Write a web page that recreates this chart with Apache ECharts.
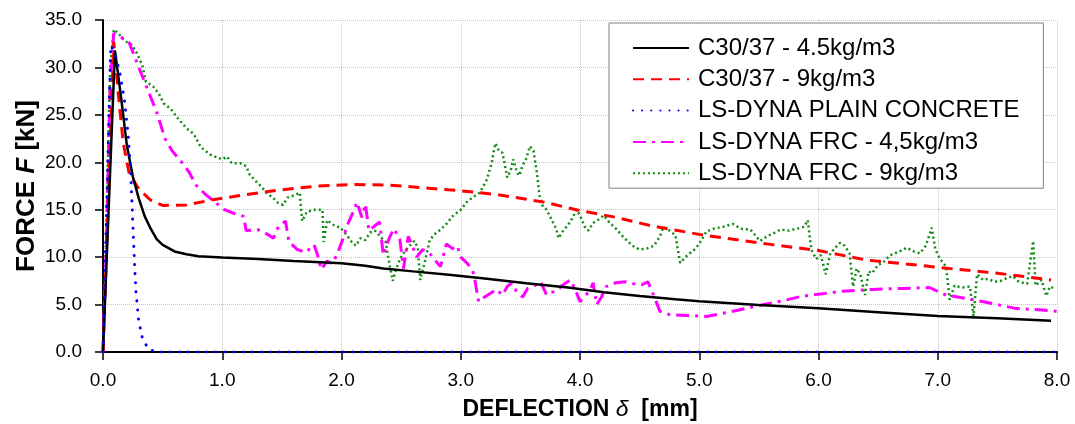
<!DOCTYPE html>
<html>
<head>
<meta charset="utf-8">
<script src="https://cdn.jsdelivr.net/npm/echarts@6/dist/echarts.min.js"></script>
<style>html,body{margin:0;padding:0;background:#fff;}#c{width:1075px;height:424px;}</style>
</head>
<body>
<div id="c"></div>
<script>
var seriesNames = ['C30/37 - 4.5kg/m3', 'C30/37 - 9kg/m3', 'LS-DYNA PLAIN CONCRETE', 'LS-DYNA FRC - 4,5kg/m3', 'LS-DYNA FRC - 9kg/m3'];
var xTicks = [0, 1, 2, 3, 4, 5, 6, 7, 8];
var yTicks = [0, 5, 10, 15, 20, 25, 30, 35];

var c30_45 = [[0,0],[0.1,31.8],[0.15,27],[0.2,21.8],[0.25,18.5],[0.3,16.2],[0.35,14.3],[0.4,13],[0.45,11.9],[0.5,11.3],[0.6,10.6],[0.7,10.3],[0.8,10.1],[1.0,9.95],[1.3,9.8],[1.6,9.6],[2.0,9.35],[2.2,9.1],[2.35,8.8],[2.6,8.5],[2.9,8.15],[3.2,7.75],[3.55,7.25],[3.9,6.8],[4.2,6.3],[4.5,5.9],[4.8,5.55],[5.0,5.35],[5.5,4.95],[6.0,4.6],[6.5,4.2],[7.0,3.8],[7.5,3.55],[7.95,3.3]];

var c30_9 = [[0,0],[0.05,18],[0.09,32.7],[0.13,27],[0.17,22],[0.22,18.8],[0.3,17.2],[0.4,16],[0.5,15.45],[0.7,15.5],[0.9,16.0],[1.2,16.6],[1.5,17.1],[1.8,17.5],[2.1,17.65],[2.4,17.6],[2.7,17.3],[3.0,17.0],[3.3,16.6],[3.7,15.8],[4.0,14.9],[4.3,14.2],[4.6,13.3],[5.0,12.4],[5.5,11.5],[6.0,10.7],[6.4,9.7],[6.8,9.2],[7.1,8.8],[7.5,8.3],[7.95,7.6]];

var plain = [[0,0],[0.065,32.3],[0.1,31.5],[0.14,29.5],[0.18,26.5],[0.21,23],[0.23,19.5],[0.245,15],[0.26,10.5],[0.275,6.5],[0.3,3.2],[0.33,1.5],[0.38,0.3],[0.45,0],[8.0,0]];

var frc_45 = [[0,0],[0.03,12],[0.06,28],[0.09,33.6],[0.15,33.2],[0.22,32.6],[0.3,30],[0.38,27.5],[0.45,25.3],[0.52,22.5],[0.58,21.2],[0.66,20.0],[0.72,19.0],[0.78,17.6],[0.86,16.6],[0.94,15.8],[1.02,15.0],[1.1,14.6],[1.18,14.3],[1.2,12.8],[1.3,12.9],[1.38,12.4],[1.43,12.0],[1.47,13.2],[1.53,13.8],[1.56,11.6],[1.63,10.8],[1.7,10.5],[1.77,11.3],[1.8,10.2],[1.83,8.7],[1.88,9.6],[1.92,9.3],[1.96,10.2],[2.0,11.5],[2.05,13.4],[2.1,14.8],[2.13,15.8],[2.17,14.2],[2.2,15.6],[2.23,12.8],[2.27,13.2],[2.32,13.7],[2.35,10.2],[2.4,12.0],[2.44,13.0],[2.49,11.8],[2.52,8.8],[2.56,12.2],[2.6,11.0],[2.63,10.0],[2.68,10.8],[2.74,10.4],[2.79,9.6],[2.83,9.0],[2.88,11.4],[2.93,10.9],[2.97,11.2],[3.0,10.0],[3.05,9.4],[3.09,8.8],[3.11,8.2],[3.15,5.3],[3.2,5.8],[3.25,6.2],[3.3,6.6],[3.35,6.0],[3.39,6.9],[3.43,7.3],[3.47,6.3],[3.52,5.8],[3.56,6.7],[3.62,7.0],[3.67,7.4],[3.72,6.0],[3.76,6.3],[3.8,6.4],[3.85,7.0],[3.92,7.6],[3.96,6.6],[4.0,5.3],[4.04,5.9],[4.08,6.4],[4.11,7.3],[4.14,5.0],[4.18,5.8],[4.22,6.9],[4.3,7.3],[4.38,7.4],[4.45,7.2],[4.52,7.1],[4.57,7.4],[4.62,5.9],[4.67,4.3],[4.75,3.95],[4.9,3.85],[5.06,3.75],[5.25,4.2],[5.5,4.9],[5.7,5.4],[5.85,5.85],[6.0,6.1],[6.2,6.4],[6.45,6.6],[6.7,6.7],[6.93,6.8],[7.07,6.0],[7.3,5.5],[7.5,5.0],[7.65,4.6],[7.85,4.45],[8.0,4.3]];

var frc_9 = [[0,0],[0.03,14],[0.06,30],[0.09,34.0],[0.13,33.6],[0.18,32.8],[0.24,32.4],[0.28,31.6],[0.33,30.2],[0.36,28.5],[0.42,28.0],[0.47,27.2],[0.51,26.2],[0.57,25.6],[0.63,24.6],[0.7,23.6],[0.76,23.0],[0.82,21.6],[0.9,20.8],[0.96,20.5],[1.0,20.3],[1.04,20.6],[1.08,19.9],[1.15,19.9],[1.2,19.6],[1.23,18.7],[1.29,17.9],[1.33,17.4],[1.37,16.8],[1.43,16.2],[1.47,15.7],[1.51,15.5],[1.55,16.3],[1.6,16.5],[1.65,16.8],[1.67,13.8],[1.71,14.8],[1.78,15.0],[1.84,15.0],[1.85,11.6],[1.88,13.9],[1.93,13.4],[1.99,13.1],[2.04,12.4],[2.08,11.7],[2.12,11.2],[2.16,12.0],[2.2,11.8],[2.24,12.6],[2.28,12.8],[2.33,12.1],[2.37,11.6],[2.4,9.4],[2.43,7.5],[2.46,8.8],[2.49,9.8],[2.53,10.6],[2.57,11.2],[2.61,11.7],[2.64,11.0],[2.66,7.6],[2.7,9.6],[2.74,11.8],[2.78,12.4],[2.83,12.9],[2.88,13.5],[2.93,14.3],[3.0,15.0],[3.05,15.8],[3.1,16.3],[3.16,16.8],[3.22,18.2],[3.26,20.0],[3.29,22.0],[3.32,21.2],[3.35,21.0],[3.39,18.4],[3.42,19.2],[3.44,20.3],[3.47,19.0],[3.49,18.6],[3.52,19.7],[3.55,20.4],[3.58,21.7],[3.61,21.2],[3.64,18.8],[3.66,16.5],[3.69,15.3],[3.72,15.0],[3.76,14.0],[3.8,13.0],[3.82,12.0],[3.86,12.8],[3.9,13.4],[3.94,14.2],[3.97,15.0],[4.0,14.4],[4.04,13.2],[4.07,12.8],[4.11,13.6],[4.16,14.0],[4.2,14.4],[4.25,13.6],[4.31,12.9],[4.35,12.3],[4.39,11.8],[4.44,11.2],[4.5,10.8],[4.56,10.9],[4.62,11.2],[4.67,12.2],[4.7,13.2],[4.75,12.8],[4.8,12.3],[4.84,9.4],[4.9,10.2],[4.96,10.8],[5.0,11.4],[5.06,12.7],[5.12,13.0],[5.2,13.2],[5.28,13.5],[5.35,13.0],[5.43,12.9],[5.51,11.7],[5.57,12.2],[5.62,12.5],[5.68,12.9],[5.75,12.8],[5.82,13.0],[5.88,13.2],[5.91,13.9],[5.94,10.8],[5.98,9.8],[6.02,10.2],[6.06,8.2],[6.1,10.4],[6.14,11.0],[6.18,11.5],[6.22,11.2],[6.26,10.4],[6.29,6.9],[6.32,8.8],[6.35,8.2],[6.39,6.0],[6.42,8.5],[6.45,8.3],[6.5,9.2],[6.54,9.4],[6.6,10.2],[6.68,10.6],[6.74,11.0],[6.8,10.6],[6.85,10.4],[6.9,11.2],[6.95,13.1],[6.98,10.8],[7.02,9.8],[7.07,9.0],[7.1,5.5],[7.14,7.0],[7.2,6.8],[7.27,6.9],[7.3,3.8],[7.33,8.2],[7.38,7.6],[7.42,7.7],[7.48,7.4],[7.53,7.5],[7.58,7.8],[7.63,8.0],[7.68,7.4],[7.75,7.2],[7.8,11.7],[7.82,7.0],[7.87,7.6],[7.91,5.9],[7.94,6.9],[7.98,6.7]];

var FONT = "'Liberation Sans', Arial, sans-serif";
var chart = echarts.init(document.getElementById('c'), null, {renderer: 'canvas'});

function mkSeries(name, data, color, width, dash, z, cap) {
  return {
    name: name, type: 'line', data: data, symbol: 'none', showSymbol: false,
    animation: false, z: z,
    lineStyle: {color: color, width: width, type: dash, cap: cap || 'butt'},
    itemStyle: {color: color}
  };
}

var option = {
  animation: false,
  backgroundColor: '#ffffff',
  grid: {left: 103, right: 18, top: 20, bottom: 72, containLabel: false, outerBoundsMode: 'none'},
  legend: {
    data: seriesNames,
    orient: 'vertical',
    left: 609, top: 23,
    padding: [13, 24, 3, 23],
    itemWidth: 56, itemHeight: 14, itemGap: 7.3,
    backgroundColor: '#ffffff',
    borderColor: '#808080', borderWidth: 1,
    z: 10,
    itemStyle: {color: 'rgba(0,0,0,0)', borderColor: 'rgba(0,0,0,0)', borderWidth: 0, opacity: 0},
    textStyle: {fontFamily: FONT, fontSize: 24, color: '#000', padding: [0, 0, 0, 4]}
  },
  xAxis: {
    type: 'value', min: 0, max: 8, interval: 1,
    name: '{b|DEFLECTION }{i|δ}{b|  [mm]}',
    nameLocation: 'middle', nameGap: 46, nameMoveOverlap: false,
    nameTextStyle: {
      rich: {
        b: {fontFamily: FONT, fontSize: 23, fontWeight: 'bold', color: '#000'},
        i: {fontFamily: FONT, fontSize: 23, fontStyle: 'italic', color: '#000'}
      }
    },
    axisLine: {show: true, lineStyle: {color: '#000', width: 2}},
    axisTick: {show: true, length: 8, lineStyle: {color: '#000', width: 1.5}},
    axisLabel: {fontFamily: FONT, fontSize: 19, color: '#000', margin: 19,
      formatter: function (v) { return xTicks.indexOf(v) >= 0 ? v.toFixed(1) : ''; }},
    splitLine: {show: true, lineStyle: {color: '#c4c4c4', width: 1, type: 'dotted'}}
  },
  yAxis: {
    type: 'value', min: 0, max: 35, interval: 5,
    name: '{b|FORCE }{i|F}{b| [kN]}',
    nameLocation: 'middle', nameGap: 63, nameMoveOverlap: false,
    nameTextStyle: {
      rich: {
        b: {fontFamily: FONT, fontSize: 26, fontWeight: 'bold', color: '#000'},
        i: {fontFamily: FONT, fontSize: 26, fontWeight: 'bold', fontStyle: 'italic', color: '#000'}
      }
    },
    axisLine: {show: true, lineStyle: {color: '#000', width: 2}},
    axisTick: {show: true, length: 8, lineStyle: {color: '#000', width: 1.5}},
    axisLabel: {fontFamily: FONT, fontSize: 19, color: '#000', margin: 21,
      formatter: function (v) { return yTicks.indexOf(v) >= 0 ? v.toFixed(1) : ''; }},
    splitLine: {show: true, lineStyle: {color: '#c4c4c4', width: 1, type: 'dotted'}}
  },
  series: [
    mkSeries(seriesNames[0], c30_45, '#000000', 2.5, 'solid', 5),
    mkSeries(seriesNames[1], c30_9, '#ff0000', 3, [11, 7], 4),
    mkSeries(seriesNames[2], plain, '#0000ff', 3, [0.1, 9], 6, 'round'),
    mkSeries(seriesNames[3], frc_45, '#ff00ff', 3, [13, 6, 3, 6], 3),
    mkSeries(seriesNames[4], frc_9, '#108a10', 2.5, [2, 3], 2)
  ]
};
chart.setOption(option);
</script>
</body>
</html>
